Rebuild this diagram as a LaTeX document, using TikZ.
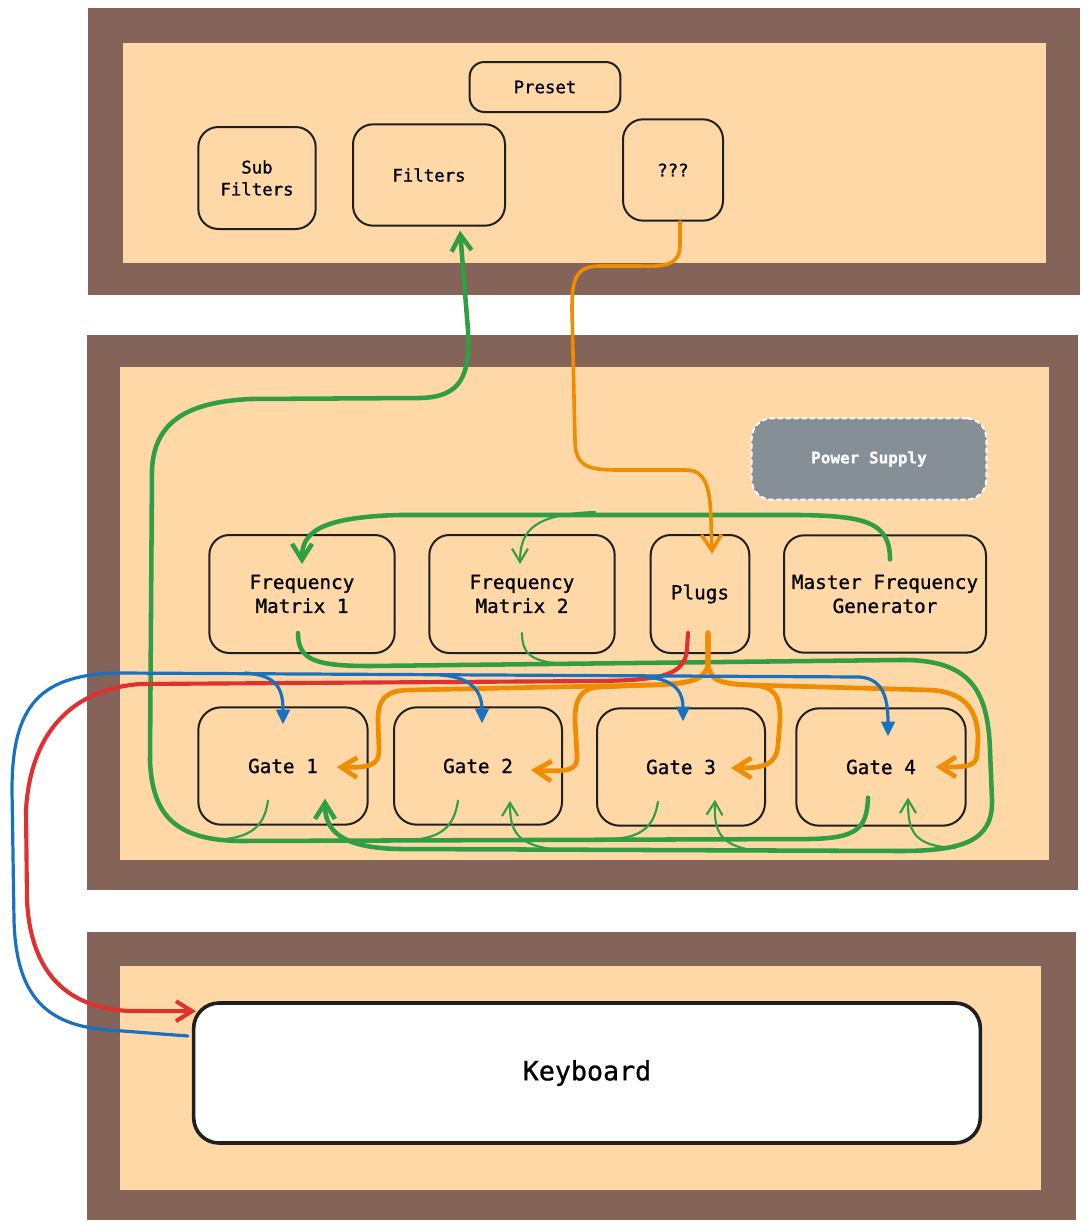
\documentclass[tikz,border=0pt]{standalone}
\usepackage{fontspec}
\setmonofont{DejaVu Sans Mono}[FakeBold=0.9]
\usetikzlibrary{arrows.meta,calc}
\definecolor{frame}{HTML}{846358}
\definecolor{board}{HTML}{FFD8A8}
\definecolor{wiregreen}{HTML}{2F9E44}
\definecolor{wireorange}{HTML}{F08C00}
\definecolor{wirered}{HTML}{E03131}
\definecolor{wireblue}{HTML}{1971C2}
\definecolor{psugray}{HTML}{868E96}

\begin{document}
\begin{tikzpicture}[x=0.75pt, y=-0.75pt, line cap=round, line join=round,
	part/.style={draw=black!88, line width=1.5pt, rounded corners=15pt, align=center, inner sep=0pt,
		font=\ttfamily\fontsize{14.5}{18}\selectfont},
	toppart/.style={part, font=\ttfamily\fontsize{13}{16.5}\selectfont},
	barb/.style={-{Straight Barb[length=12pt,width=15pt]}},
	thinbarb/.style={-{Straight Barb[length=10pt,width=12pt]}},
	gthick/.style={draw=wiregreen, line width=3.4pt},
	gthin/.style={draw=wiregreen, line width=1.6pt},
	othick/.style={draw=wireorange, line width=3.5pt},
	othin/.style={draw=wireorange, line width=2.7pt},
	bwire/.style={draw=wireblue, line width=2.4pt, -{Triangle[length=11pt,width=10pt]}}]
	\useasboundingbox (0,0) rectangle (1088,1228);

	% boards
	\fill[frame] (88,8) rectangle (1080,295);
	\fill[board] (123,43) rectangle (1046,263);
	\fill[frame] (87,335) rectangle (1078,890);
	\fill[board] (120,367) rectangle (1049,860);
	\fill[frame] (87,932) rectangle (1076,1220);
	\fill[board] (120,966) rectangle (1041,1190);

	% top board
	\node[toppart, minimum width=113pt, minimum height=37.5pt, rounded corners=11pt] (preset) at (545,87) {Preset};
	\node[toppart, minimum width=88pt, minimum height=76.5pt] (subfilters) at (257,178) {Sub\\ Filters};
	\node[toppart, minimum width=114pt, minimum height=76pt] (filters) at (429,175) {Filters};
	\node[toppart, minimum width=75pt, minimum height=76pt] (unknown) at (673,170) {???};

	% main board
	\node[part, draw=white, dashed, fill=psugray, text=white, minimum width=176pt, minimum height=61pt,
		font=\ttfamily\bfseries\fontsize{12}{15}\selectfont] (psu) at (869,459) {Power Supply};
	\node[part, minimum width=139pt, minimum height=88.5pt] (fm1) at (302,594) {Frequency\\Matrix 1};
	\node[part, minimum width=139pt, minimum height=88.5pt] (fm2) at (522,594) {Frequency\\Matrix 2};
	\node[part, minimum width=74pt, minimum height=88.5pt] (plugs) at (700,594) {Plugs};
	\node[part, minimum width=151.5pt, minimum height=88pt] (mfg) at (885,594) {Master Frequency\\Generator};
	\node[part, minimum width=127pt, minimum height=88pt, rounded corners=17pt] (gate1) at (283,766) {Gate 1};
	\node[part, minimum width=126pt, minimum height=88pt, rounded corners=17pt] (gate2) at (478,766) {Gate 2};
	\node[part, minimum width=126pt, minimum height=88pt, rounded corners=17pt] (gate3) at (681,767) {Gate 3};
	\node[part, minimum width=127pt, minimum height=88pt, rounded corners=17pt] (gate4) at (881,767) {Gate 4};

	% bottom board
	\node[part, fill=white, line width=2.7pt, rounded corners=19pt, minimum width=590pt, minimum height=105pt,
		font=\ttfamily\fontsize{20}{24}\selectfont] (keyboard) at (587,1073) {Keyboard};

	% taps on the green buses
	\coordinate (tapB) at (595,512);
	\coordinate (tapC) at (585,665);
	\coordinate (outG1) at (215,840);
	\coordinate (outG2) at (410,840);
	\coordinate (outG3) at (610,839);
	\coordinate (inG2) at (560,850);
	\coordinate (inG3) at (760,851);
	\coordinate (inG4) at (955,848);

	% filters loop
	\draw[gthick, barb] ($(gate4.south)+(-13,-29)$) .. controls (867,830) and (855,838) .. (810,839)
		-- (240,841) .. controls (175,840) and (152,815) .. (150,760)
		-- (152,470) .. controls (154,420) and (190,402) .. (250,399)
		-- (420,398) .. controls (462,397) and (470,375) .. (468,330)
		-- ($(filters.south)+(31,4)$);
	\draw[gthin] ($(gate1.south)+(-15,-25)$) .. controls (264,828) and (250,838) .. (outG1);
	\draw[gthin] ($(gate2.south)+(-20,-25)$) .. controls (454,828) and (440,838) .. (outG2);
	\draw[gthin] ($(gate3.south)+(-23,-25)$) .. controls (654,828) and (640,838) .. (outG3);

	% master frequency loop
	\draw[gthick, barb] ($(mfg.north)+(5,25)$) .. controls (890,522) and (865,516) .. (800,515)
		-- (400,515) .. controls (315,517) and (302,535) .. ($(fm1.north)+(0,30)$);
	\draw[gthin, thinbarb] (tapB) .. controls (535,514) and (520,530) .. ($(fm2.north)+(-2,30)$);

	% matrix loop
	\draw[gthick, barb] ($(fm1.south)+(-4,-21)$) .. controls (298,660) and (315,666) .. (370,666)
		-- (900,660) .. controls (970,659) and (988,690) .. (990,750)
		-- (992,800) .. controls (993,840) and (965,851) .. (900,851)
		-- (400,849) .. controls (340,848) and (325,830) .. ($(gate1.south)+(42,-27)$);
	\draw[gthin] ($(fm2.south)+(0,-21)$) .. controls (522,658) and (535,664) .. (tapC);
	\draw[gthin, thinbarb] (inG2) .. controls (515,846) and (510,830) .. ($(gate2.south)+(32,-25)$);
	\draw[gthin, thinbarb] (inG3) .. controls (718,847) and (714,830) .. ($(gate3.south)+(34,-27)$);
	\draw[gthin, thinbarb] (inG4) .. controls (912,846) and (908,830) .. ($(gate4.south)+(27,-29)$);

	% ??? to plugs
	\draw[othin, barb] ($(unknown.south)+(7,0)$) -- (680,245) .. controls (680,265) and (665,267) .. (640,266)
		-- (600,266) .. controls (575,266) and (572,280) .. (572,310)
		-- (575,440) .. controls (575,468) and (590,470) .. (620,470)
		-- (685,470) .. controls (705,470) and (710,485) .. (711,520) -- ($(plugs.north)+(12,20)$);

	% plugs to gates
	\draw[othick, barb] ($(plugs.south)+(8,-21)$) -- (708,665) .. controls (705,680) and (690,684) .. (650,685)
		-- (410,690) .. controls (385,690) and (378,700) .. (378,720)
		-- (379,750) .. controls (379,765) and (370,768) .. ($(gate1.east)+(-32,1)$);
	\draw[othick, barb] ($(plugs.south)+(8,-21)$) -- (708,665) .. controls (705,680) and (690,684) .. (650,685)
		-- (600,687) .. controls (580,688) and (575,700) .. (575,720)
		-- (577,755) .. controls (578,770) and (570,772) .. ($(gate2.east)+(-32,4)$);
	\draw[othick, barb] ($(plugs.south)+(8,-21)$) -- (708,665) .. controls (710,680) and (720,684) .. (750,685)
		.. controls (775,686) and (780,695) .. (780,720)
		-- (778,745) .. controls (776,765) and (765,768) .. ($(gate3.east)+(-35,1)$);
	\draw[othick, barb] ($(plugs.south)+(8,-21)$) -- (708,665) .. controls (710,680) and (720,684) .. (750,685)
		-- (930,690) .. controls (965,692) and (978,710) .. (978,740)
		-- (977,755) .. controls (976,767) and (965,767) .. ($(gate4.east)+(-31,0)$);

	% plugs to keyboard
	\draw[draw=wirered, line width=3.1pt, barb] ($(plugs.south)+(-12,-21)$) -- (687,648) .. controls (686,676) and (660,680) .. (600,681)
		-- (140,684) .. controls (65,690) and (30,740) .. (26,810)
		-- (27,900) .. controls (30,965) and (60,1008) .. (130,1011)
		-- ($(keyboard.north west)+(4,10)$);

	% keyboard to gates
	\coordinate (tapG1) at (245,673);
	\coordinate (tapG2) at (440,675);
	\coordinate (tapG3) at (645,677);
	\draw[bwire] ($(keyboard.west)+(-4,-37)$) -- (110,1030) .. controls (45,1026) and (16,995) .. (14,920)
		-- (12,790) .. controls (12,705) and (40,674) .. (120,673)
		-- (860,677) .. controls (884,679) and (888,700) .. ($(gate4.north)+(7,29)$);
	\draw[bwire] (tapG1) .. controls (278,675) and (283,690) .. ($(gate1.north)+(0,18)$);
	\draw[bwire] (tapG2) .. controls (475,677) and (482,695) .. ($(gate2.north)+(4,17)$);
	\draw[bwire] (tapG3) .. controls (678,679) and (683,695) .. ($(gate3.north)+(2,14)$);
\end{tikzpicture}
\end{document}
